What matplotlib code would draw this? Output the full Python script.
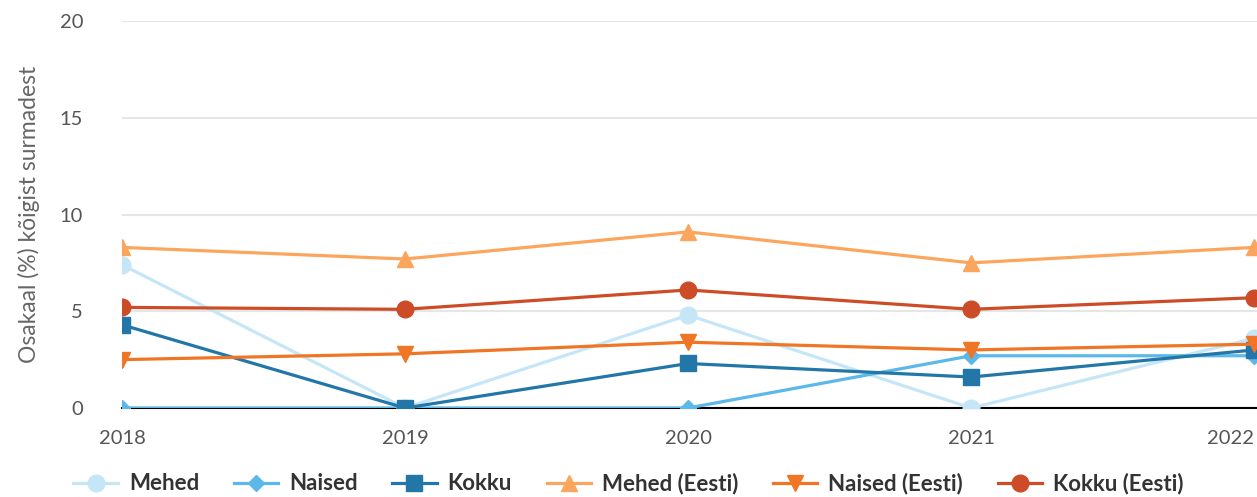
import matplotlib
matplotlib.use("Agg")
import matplotlib.pyplot as plt

years = [2018, 2019, 2020, 2021, 2022]
mehed = [7.4, 0.0, 4.8, 0.0, 3.6]
naised = [0.0, 0.0, 0.0, 2.7, 2.7]
kokku = [4.3, 0.0, 2.3, 1.6, 3.0]
mehed_eesti = [8.3, 7.7, 9.1, 7.5, 8.3]
naised_eesti = [2.5, 2.8, 3.4, 3.0, 3.3]
kokku_eesti = [5.2, 5.1, 6.1, 5.1, 5.7]

plt.rcParams['font.family'] = ['Lato', 'DejaVu Sans']

fig = plt.figure(figsize=(12.57, 4.97), dpi=100)
ax = fig.add_axes([122 / 1257, 89 / 497, 1 - 122 / 1257, 387 / 497])

series = [
    ("Mehed", mehed, "#c5e6f7", "o", 12),
    ("Naised", naised, "#5bb8e8", "D", 8),
    ("Kokku", kokku, "#2277a8", "s", 12),
    ("Mehed (Eesti)", mehed_eesti, "#fca55c", "^", 12),
    ("Naised (Eesti)", naised_eesti, "#f07524", "v", 12),
    ("Kokku (Eesti)", kokku_eesti, "#cc4c27", "o", 12),
]
for name, vals, col, mk, ms in series:
    ax.plot(years, vals, color=col, lw=2.3, marker=mk, markersize=ms,
            label=name, zorder=3)

ax.set_xlim(2018, 2022.01)
ax.set_ylim(0, 20)
ax.set_yticks([0, 5, 10, 15, 20])
ax.set_xticks(years)
ax.grid(axis='y', color='#e6e6e6', lw=1.5)
ax.set_axisbelow(True)
for s in ['top', 'right', 'left']:
    ax.spines[s].set_visible(False)
ax.spines['bottom'].set_color('black')
ax.spines['bottom'].set_linewidth(1.5)
ax.spines['bottom'].set_zorder(2)
ax.tick_params(length=0, labelsize=14.5, colors='#555555')
ax.tick_params(axis='y', pad=28)
ax.tick_params(axis='x', pad=16)
ax.get_xticklabels()[-1].set_horizontalalignment('right')
ax.get_xticklabels()[-1].set_x(2022.01)
ax.set_ylabel("Osakaal (%) kõigist surmadest", fontsize=16.5, color='#666666',
              labelpad=14)

fig.legend(loc='lower center', bbox_to_anchor=(0.5, -0.035), ncol=6,
           frameon=False, prop={'size': 16, 'weight': 'bold'},
           labelcolor='#333333', handlelength=2.0, columnspacing=1.55,
           handletextpad=0.5)

fig.savefig("out.png", dpi=100)
